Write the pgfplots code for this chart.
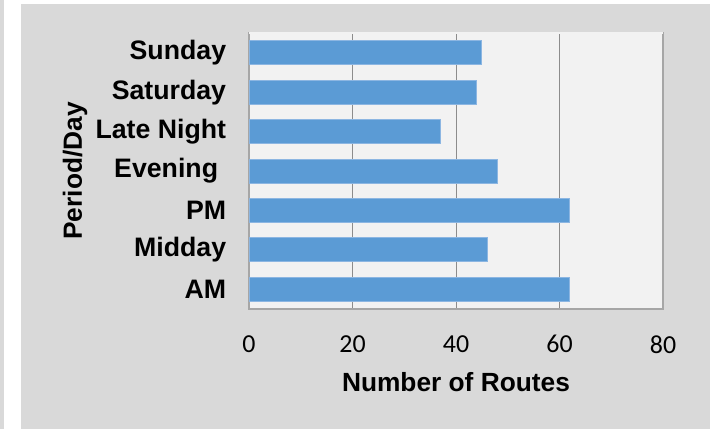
\documentclass[border=0pt]{standalone}
\usepackage{pgfplots}
\pgfplotsset{compat=1.18}
\usepackage{fontspec}
\setmainfont{Liberation Sans}
\newfontfamily\calibri{Carlito}

\definecolor{bgc}{HTML}{D9D9D9}
\definecolor{plotbg}{HTML}{F2F2F2}
\definecolor{barc}{HTML}{5B9BD5}
\definecolor{baredge}{HTML}{8CB6E2}
\definecolor{gridc}{HTML}{8C8C8C}
\definecolor{axisc}{HTML}{A6A6A6}

\begin{document}
\begin{tikzpicture}
  \useasboundingbox (0,0) rectangle (355bp,214.5bp);
  \fill[bgc] (0,0) rectangle (2bp,214.5bp);
  \fill[white] (2bp,0) rectangle (10.5bp,214.5bp);
  \fill[bgc] (10.5bp,0) rectangle (355bp,212.5bp);
  \begin{axis}[
    at={(124.5bp,60bp)}, anchor=south west,
    scale only axis, width=207bp, height=138bp,
    xbar, bar width=12bp,
    xmin=0, xmax=80, xtick={0,20,...,80},
    ymin=-0.5, ymax=6.5, ytick={0,...,6},
    yticklabels={AM,Midday,PM,{Evening\rule{4bp}{0pt}},Late Night,Saturday,Sunday},
    axis background/.style={fill=plotbg},
    xmajorgrids, grid style={draw=gridc, line width=0.5bp},
    axis line style={draw=axisc, line width=0.6bp},
    tick style={draw=none},
    /pgf/number format/assume math mode=true,
    xticklabel style={font=\calibri\fontsize{13}{15}\selectfont, inner sep=0pt, anchor=north, yshift=-13bp},
    yticklabel style={font=\bfseries\fontsize{13.4}{16}\selectfont, inner sep=0pt, anchor=east, xshift=-7bp},
    xlabel={Number of Routes},
    ylabel={Period/Day},
    label style={font=\bfseries\fontsize{13.2}{16}\selectfont},
    xlabel style={at={(axis description cs:0.5,0)}, anchor=center, yshift=-36.5bp},
    ylabel style={at={(axis description cs:0,0.5)}, anchor=center, yshift=87bp},
    after end axis/.code={\draw[plotbg, line width=0.8bp] (rel axis cs:0,1) -- (rel axis cs:1,1);},
  ]
    \addplot[fill=barc, draw=baredge, line width=0.5bp] coordinates {
      (62,0) (46,1) (62,2) (48,3) (37,4) (44,5) (45,6)
    };
  \end{axis}
\end{tikzpicture}
\end{document}
